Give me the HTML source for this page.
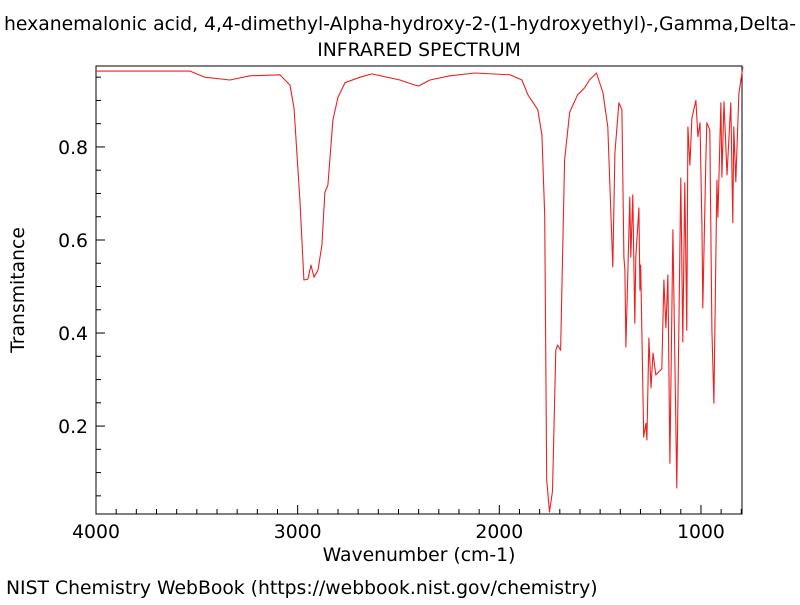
<!DOCTYPE html>
<html><head><meta charset="utf-8"><style>
body{margin:0;background:#fff;}
svg text{font-family:"DejaVu Sans","Liberation Sans",sans-serif;fill:#000;}
</style></head><body>
<svg id="chart" width="800" height="600" xmlns="http://www.w3.org/2000/svg">
<text x="400" y="30" font-size="18.8" text-anchor="middle">hexanemalonic acid, 4,4-dimethyl-Alpha-hydroxy-2-(1-hydroxyethyl)-,Gamma,Delta-</text>
<text x="419" y="56" font-size="18.8" text-anchor="middle">INFRARED SPECTRUM</text>
<rect x="96" y="66" width="646" height="448" fill="none" stroke="#000" stroke-width="1"/>
<g id="xaxis"></g>
<g id="yaxis"></g>
<polyline id="spec" fill="none" stroke="#ee2020" stroke-width="1.1" stroke-linejoin="round"/>
<text x="419" y="561" font-size="18.8" text-anchor="middle">Wavenumber (cm-1)</text>
<text transform="translate(24,290) rotate(-90)" font-size="18.8" text-anchor="middle">Transmitance</text>
<text x="6" y="594" font-size="18.8">NIST Chemistry WebBook (https://webbook.nist.gov/chemistry)</text>
</svg>
<script>
const wavenumbers=[4000,3534,3460,3336,3236,3088,3038,3018,2989,2969,2949,2934,2919,2899,2880,2865,2850,2825,2800,2765,2691,2632,2493,2418,2400,2344,2245,2121,1947,1888,1858,1809,1789,1775,1765,1751,1736,1720,1711,1696,1676,1651,1612,1577,1553,1518,1486,1462,1437,1427,1407,1392,1382,1377,1372,1353,1348,1338,1328,1323,1308,1303,1299,1284,1273,1268,1258,1248,1238,1224,1194,1184,1174,1164,1154,1139,1120,1100,1090,1080,1070,1065,1055,1045,1025,1015,1005,995,991,976,971,956,946,936,921,916,901,896,886,871,852,842,837,827,812,792];
const transmittance=[0.963,0.963,0.95,0.944,0.953,0.955,0.933,0.884,0.686,0.514,0.516,0.546,0.52,0.535,0.589,0.703,0.718,0.858,0.907,0.938,0.95,0.957,0.944,0.933,0.931,0.944,0.953,0.959,0.955,0.944,0.912,0.88,0.826,0.654,0.084,0.015,0.06,0.363,0.374,0.363,0.772,0.875,0.912,0.927,0.944,0.959,0.916,0.843,0.542,0.787,0.895,0.88,0.563,0.535,0.37,0.692,0.563,0.697,0.421,0.563,0.669,0.492,0.546,0.176,0.206,0.17,0.389,0.282,0.357,0.31,0.323,0.514,0.411,0.525,0.12,0.622,0.067,0.733,0.381,0.723,0.406,0.843,0.761,0.862,0.9,0.822,0.852,0.622,0.454,0.766,0.852,0.837,0.406,0.249,0.729,0.649,0.895,0.735,0.897,0.74,0.895,0.637,0.843,0.725,0.916,0.972];
const xTicks=[4000,3000,2000,1000];
const yTicks=[0.2,0.4,0.6,0.8];
const NS="http://www.w3.org/2000/svg";
const X0=96,X1=742,Y0=514,Y1=66,WN0=4000,WN1=796.5,T0=0.011,T1=0.974;
function xs(w){return X0+(WN0-w)/(WN0-WN1)*(X1-X0);}
function ys(t){return Y0-(t-T0)/(T1-T0)*(Y0-Y1);}
function line(g,x1,y1,x2,y2,name){const l=document.createElementNS(NS,'line');


l.setAttribute('x1',x1);l.setAttribute('y1',y1);l.setAttribute('x2',x2);l.setAttribute('y2',y2);l.setAttribute('stroke','#000');g.appendChild(l);}
function label(g,x,y,s,anchor,name){const t=document.createElementNS(NS,'text');


t.setAttribute('x',x);t.setAttribute('y',y);t.setAttribute('font-size','18.8');t.setAttribute('text-anchor',anchor);t.textContent=s;g.appendChild(t);}
const gx=document.getElementById('xaxis'),gy=document.getElementById('yaxis');
for(let w=4000;w>WN1;w-=100){const x=xs(w);const major=w%1000===0;line(gx,x,Y0,x,Y0-(major?9:5),major?'x-major-tick':'x-minor-tick');}
xTicks.forEach(w=>label(gx,xs(w),538,String(w),'middle','x-tick-label'));
for(let k=1;k*0.05<T1;k++){const t=k*0.05;if(t<T0)continue;const y=ys(t);const major=k%4===0;line(gy,X0,y,X0+(major?9:5),y,major?'y-major-tick':'y-minor-tick');}
yTicks.forEach(t=>label(gy,X0-8,ys(t)+7,t.toFixed(1),'end','y-tick-label'));
document.getElementById('spec').setAttribute('points',wavenumbers.map((w,i)=>xs(w).toFixed(1)+','+ys(transmittance[i]).toFixed(1)).join(' '));
</script>
</body></html>
